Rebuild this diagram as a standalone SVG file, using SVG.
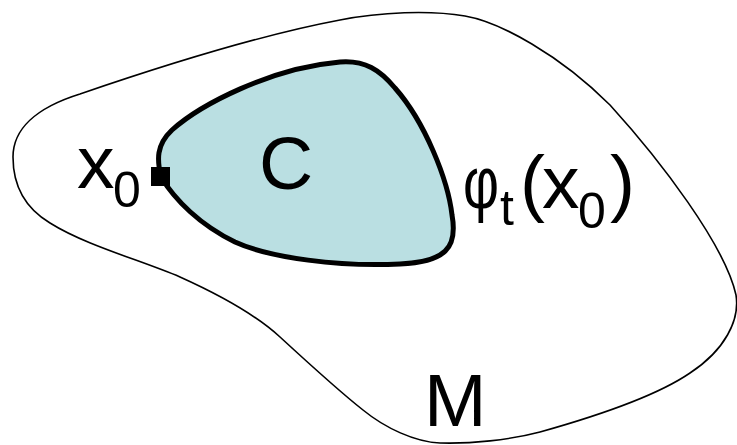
<svg xmlns="http://www.w3.org/2000/svg" width="737" height="445" viewBox="0 0 737 445">
<style>
.t{font-family:"Liberation Sans",Arial,sans-serif;fill:#000;}
.big{font-size:75px;}
.sub{font-size:50px;}
</style>
<rect width="737" height="445" fill="#fff"/>
<g id="M">
<path d="M13,157 C13,130 35,108 80,94 C150,70 260,35 340,20 C380,12 430,10 465,16 C500,22 560,55 610,105 C660,160 725,245 736,295 C740,320 725,350 690,373 C655,397 590,418 540,432 C510,440 470,444 440,443 C415,442 385,428 363,410 C340,392 305,360 280,337 C255,314 220,295 180,277 C140,260 85,245 50,223 C25,208 13,185 13,157 Z" fill="none" stroke="#000" stroke-width="1.6"/>
<text class="t big" x="424" y="426">M</text>
</g>
<g id="C">
<path d="M161,177 C157,160 156,145 172,130 C200,105 270,68 340,62 C365,60 380,70 395,88 C425,122 448,180 452,215 C458,248 445,262 400,264 C340,267 270,258 235,242 C200,225 175,200 161,177 Z" fill="#badfe2" stroke="#000" stroke-width="5" stroke-linejoin="round"/>
<text class="t big" x="259" y="189">C</text>
</g>
<g id="x0">
<rect x="151" y="167" width="19" height="19" fill="#000"/>
<text class="t big" x="77" y="188">x<tspan class="sub" x="113" y="207">0</tspan></text>
</g>
<g id="phi">
<text class="t big" x="463" y="208"><tspan textLength="36" lengthAdjust="spacingAndGlyphs">φ</tspan><tspan class="sub" x="500" y="225">t</tspan><tspan x="520" y="208">(</tspan><tspan x="542" y="208">x</tspan><tspan class="sub" x="578" y="228">0</tspan><tspan x="610" y="208">)</tspan></text>
</g>
<g id="connectors"></g>
</svg>
